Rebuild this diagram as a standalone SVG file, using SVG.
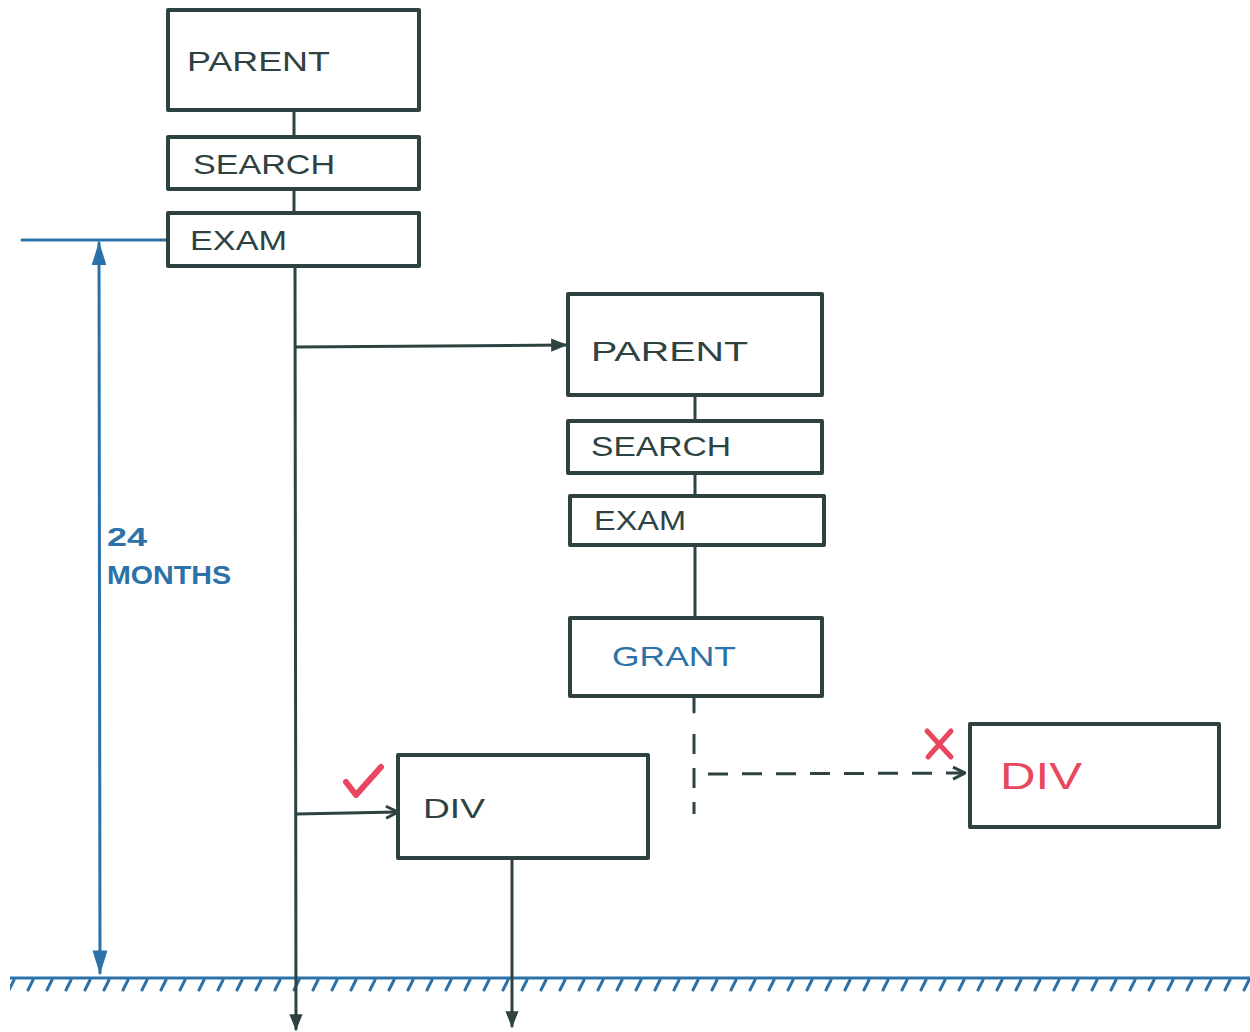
<svg xmlns="http://www.w3.org/2000/svg" width="1250" height="1032" viewBox="0 0 1250 1032">
<style>
.box{fill:#fff;stroke:#2e4242;stroke-width:4;stroke-linejoin:round}
.ln{fill:none;stroke:#2e4242;stroke-width:3;stroke-linecap:round}
.dash{fill:none;stroke:#2e4242;stroke-width:3;stroke-dasharray:20 14}
.blue{fill:none;stroke:#2c72a8;stroke-width:3;stroke-linecap:round}
.t{font-family:"Liberation Sans",Arial,sans-serif;font-size:28px;fill:#2e4242}
.tb{font-family:"Liberation Sans",Arial,sans-serif;font-size:28px;fill:#2c72a8}
.tr{font-family:"Liberation Sans",Arial,sans-serif;font-size:36px;fill:#e8475f}
.lbl{font-family:"Liberation Sans",Arial,sans-serif;font-size:26px;font-weight:bold;fill:#2c72a8}
</style>
<defs>
<marker id="ad" viewBox="0 0 10 10" refX="9" refY="5" markerWidth="5.5" markerHeight="5.5" orient="auto" markerUnits="strokeWidth"><path d="M0,1 L10,5 L0,9 z" fill="#2e4242"/></marker>
<marker id="ao" viewBox="0 0 10 10" refX="9" refY="5" markerWidth="5" markerHeight="5" orient="auto" markerUnits="strokeWidth"><path d="M1,1 L9,5 L1,9" fill="none" stroke="#2e4242" stroke-width="2"/></marker>
<marker id="ab" viewBox="0 0 16 10" refX="15" refY="5" markerWidth="8" markerHeight="5" orient="auto-start-reverse" markerUnits="strokeWidth"><path d="M0,0 L16,5 L0,10 z" fill="#2c72a8"/></marker>
<pattern id="hatch" x="0" y="979" width="19" height="14" patternUnits="userSpaceOnUse"><path d="M14,1 L9,11" stroke="#2c72a8" stroke-width="3" stroke-linecap="round"/></pattern>
</defs>

<g id="ground">
<line x1="10" y1="978" x2="1250" y2="978" stroke="#2c72a8" stroke-width="3"/>
<rect x="10" y="979" width="1240" height="13" fill="url(#hatch)"/>
</g>

<g id="connectors">
<line class="ln" x1="294" y1="110" x2="294" y2="137"/>
<line class="ln" x1="294" y1="189" x2="294" y2="213"/>
<line class="ln" x1="295" y1="266" x2="296" y2="1029" marker-end="url(#ad)"/>
<line class="ln" x1="296" y1="347" x2="566" y2="345" marker-end="url(#ad)"/>
<line class="ln" x1="296" y1="814" x2="398" y2="812" marker-end="url(#ao)"/>
<line class="ln" x1="512" y1="858" x2="512" y2="1026" marker-end="url(#ad)"/>
<line class="ln" x1="695" y1="395" x2="695" y2="421"/>
<line class="ln" x1="695" y1="473" x2="695" y2="496"/>
<line class="ln" x1="695" y1="545" x2="695" y2="618"/>
<line class="ln" x1="694" y1="696" x2="694" y2="712"/>
<line class="dash" x1="694" y1="734" x2="694" y2="814" stroke-dasharray="22 13"/>
<line class="dash" x1="708" y1="774" x2="965" y2="773" marker-end="url(#ao)"/>
<line class="blue" x1="22" y1="240" x2="168" y2="240"/>
<line class="blue" x1="99" y1="243" x2="100" y2="973" marker-start="url(#ab)" marker-end="url(#ab)"/>
</g>

<g id="parent1"><rect class="box" x="168" y="10" width="251" height="100"/><text class="t" x="187" y="71" textLength="143" lengthAdjust="spacingAndGlyphs">PARENT</text></g>
<g id="search1"><rect class="box" x="168" y="137" width="251" height="52"/><text class="t" x="193" y="174" textLength="142" lengthAdjust="spacingAndGlyphs">SEARCH</text></g>
<g id="exam1"><rect class="box" x="168" y="213" width="251" height="53"/><text class="t" x="190" y="250" textLength="97" lengthAdjust="spacingAndGlyphs">EXAM</text></g>

<g id="parent2"><rect class="box" x="568" y="294" width="254" height="101"/><text class="t" x="591" y="361" textLength="157" lengthAdjust="spacingAndGlyphs">PARENT</text></g>
<g id="search2"><rect class="box" x="568" y="421" width="254" height="52"/><text class="t" x="591" y="456" textLength="140" lengthAdjust="spacingAndGlyphs">SEARCH</text></g>
<g id="exam2"><rect class="box" x="570" y="496" width="254" height="49"/><text class="t" x="594" y="530" textLength="92" lengthAdjust="spacingAndGlyphs">EXAM</text></g>
<g id="grant"><rect class="box" x="570" y="618" width="252" height="78"/><text class="tb" x="612" y="666" textLength="124" lengthAdjust="spacingAndGlyphs">GRANT</text></g>

<g id="div1"><rect class="box" x="398" y="755" width="250" height="103"/><text class="t" x="423" y="818" textLength="62" lengthAdjust="spacingAndGlyphs">DIV</text>
<path d="M346,782 L356,795 L381,767" fill="none" stroke="#e8475f" stroke-width="6" stroke-linecap="round" stroke-linejoin="round"/></g>
<g id="div2"><rect class="box" x="970" y="724" width="249" height="103"/><text class="tr" x="1000" y="789" textLength="82" lengthAdjust="spacingAndGlyphs">DIV</text>
<path d="M927,731 L951,757 M951,731 L928,757" fill="none" stroke="#e8475f" stroke-width="5" stroke-linecap="round"/></g>

<g id="dimension-label"><text class="lbl" x="107" y="546" textLength="40" lengthAdjust="spacingAndGlyphs">24</text><text class="lbl" x="107" y="584" textLength="124" lengthAdjust="spacingAndGlyphs">MONTHS</text></g>
</svg>
